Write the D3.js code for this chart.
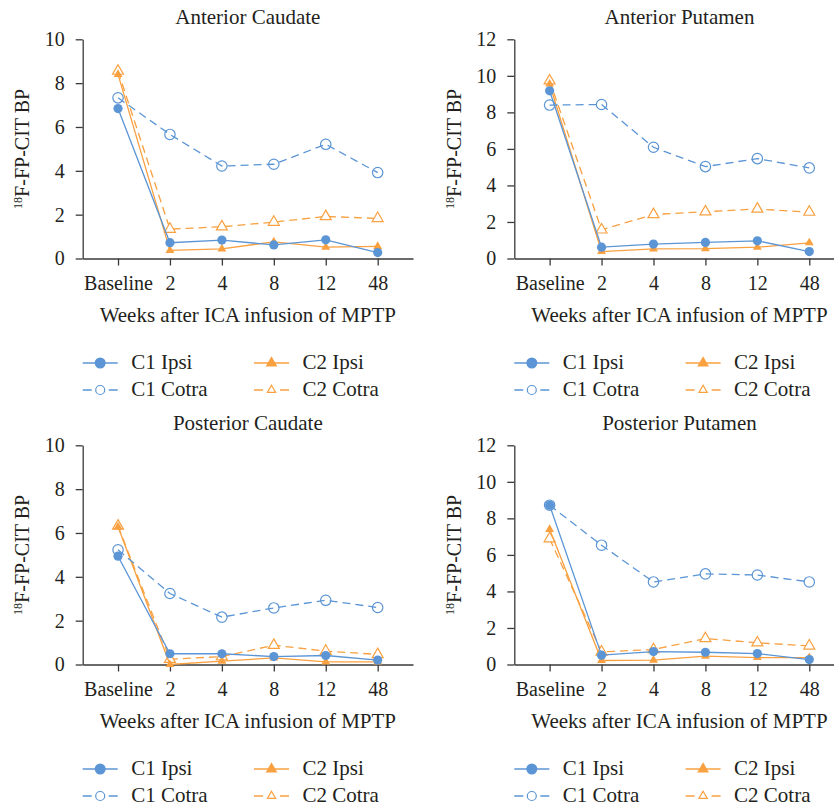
<!DOCTYPE html>
<html>
<head>
<meta charset="utf-8">
<script src="https://cdn.jsdelivr.net/npm/d3@7"></script>
<style>
  body { margin: 0; background: #fff; }
  .axis path, .axis line { stroke: #3a3a3a; stroke-width: 1.3; }
</style>
</head>
<body>
<script>
// categories on the x axis
const weeks = ["Baseline", "2", "4", "8", "12", "48"]

// Anterior Caudate
const antCaudC1Ipsi  = [6.84, 0.72, 0.84, 0.62, 0.85, 0.27]
const antCaudC1Cotra = [7.33, 5.66, 4.22, 4.30, 5.21, 3.92]
const antCaudC2Ipsi  = [8.40, 0.37, 0.44, 0.76, 0.52, 0.55]
const antCaudC2Cotra = [8.55, 1.34, 1.45, 1.66, 1.92, 1.83]

// Anterior Putamen
const antPutC1Ipsi  = [9.18, 0.62, 0.79, 0.88, 0.97, 0.38]
const antPutC1Cotra = [8.40, 8.43, 6.09, 5.03, 5.47, 4.96]
const antPutC2Ipsi  = [9.55, 0.38, 0.53, 0.54, 0.62, 0.86]
const antPutC2Cotra = [9.73, 1.57, 2.41, 2.56, 2.71, 2.54]

// Posterior Caudate
const postCaudC1Ipsi  = [4.94, 0.49, 0.49, 0.36, 0.41, 0.20]
const postCaudC1Cotra = [5.23, 3.24, 2.16, 2.58, 2.93, 2.60]
const postCaudC2Ipsi  = [6.28, 0.00, 0.15, 0.30, 0.12, 0.12]
const postCaudC2Cotra = [6.32, 0.24, 0.36, 0.88, 0.61, 0.46]

// Posterior Putamen
const postPutC1Ipsi  = [8.72, 0.51, 0.71, 0.67, 0.60, 0.27]
const postPutC1Cotra = [8.72, 6.53, 4.52, 4.96, 4.90, 4.52]
const postPutC2Ipsi  = [7.40, 0.22, 0.24, 0.46, 0.38, 0.38]
const postPutC2Cotra = [6.89, 0.69, 0.82, 1.42, 1.19, 1.02]

const yTicks10 = [0, 2, 4, 6, 8, 10]
const yTicks12 = [0, 2, 4, 6, 8, 10, 12]

const blue = "#5b95d5"
const orange = "#f9a040"
const serif = "'Liberation Serif', 'Times New Roman', serif"
const ink = "#231f20"

const series = [
  {name: "C1 Ipsi",  color: blue,   dash: null,  marker: "dot"},
  {name: "C1 Cotra", color: blue,   dash: "8,5", marker: "ring"},
  {name: "C2 Ipsi",  color: orange, dash: null,  marker: "tri"},
  {name: "C2 Cotra", color: orange, dash: "8,5", marker: "opentri"}
]

const panels = [
  {title: "Anterior Caudate",   ymax: 10, ticks: yTicks10, col: 0, row: 0,
   vals: [antCaudC1Ipsi, antCaudC1Cotra, antCaudC2Ipsi, antCaudC2Cotra]},
  {title: "Anterior Putamen",   ymax: 12, ticks: yTicks12, col: 1, row: 0,
   vals: [antPutC1Ipsi, antPutC1Cotra, antPutC2Ipsi, antPutC2Cotra]},
  {title: "Posterior Caudate",  ymax: 10, ticks: yTicks10, col: 0, row: 1,
   vals: [postCaudC1Ipsi, postCaudC1Cotra, postCaudC2Ipsi, postCaudC2Cotra]},
  {title: "Posterior Putamen",  ymax: 12, ticks: yTicks12, col: 1, row: 1,
   vals: [postPutC1Ipsi, postPutC1Cotra, postPutC2Ipsi, postPutC2Cotra]}
]

const W = 834, H = 809
const svg = d3.select("body").append("svg").attr("width", W).attr("height", H)
  .attr("font-family", serif)

// draw one marker at 0,0 of the given group
const drawMarker = (g, s, big) => {
  if (s.marker === "dot") {
    g.append("circle").attr("r", big ? 5.5 : 4.6).attr("fill", s.color)
  } else if (s.marker === "ring") {
    g.append("circle").attr("r", big ? 4.5 : 5.2).attr("fill", "none")
      .attr("stroke", s.color).attr("stroke-width", 1.2)
  } else if (s.marker === "tri") {
    g.append("path").attr("d", d3.symbol(d3.symbolTriangle, big ? 60 : 34)())
      .attr("fill", s.color)
  } else {
    g.append("path").attr("d", d3.symbol(d3.symbolTriangle, big ? 30 : 52)())
      .attr("fill", "#fff").attr("stroke", s.color).attr("stroke-width", 1.2)
  }
}

// restyle axis text after d3 sets its own font
const styleAxis = sel => {
  sel.attr("font-family", serif).attr("font-size", 20)
  sel.selectAll("text").attr("fill", ink).attr("font-family", serif).attr("font-size", 20)
}

panels.forEach(p => {
  const ox = p.col * 431.6
  const oy = p.row * 406
  const left = ox + 82.7, right = ox + 413
  const top = oy + 39.3, bottom = oy + 258.5

  const x = d3.scalePoint().domain(weeks).range([left, right]).padding(0.68)
  const y = d3.scaleLinear().domain([0, p.ymax]).range([bottom, top])

  const g = svg.append("g")

  g.append("g").attr("class", "axis")
    .attr("transform", "translate(0," + bottom + ")")
    .call(d3.axisBottom(x).tickSize(7).tickSizeOuter(0).tickPadding(10))
    .call(styleAxis)

  g.append("g").attr("class", "axis")
    .attr("transform", "translate(" + left + ",0)")
    .call(d3.axisLeft(y).tickValues(p.ticks).tickSize(7).tickSizeOuter(0).tickPadding(11))
    .call(styleAxis)

  g.append("text")
    .attr("x", (left + right) / 2).attr("y", oy + 23.5)
    .attr("text-anchor", "middle").attr("font-size", 21).attr("fill", ink)
    .text(p.title)

  const yl = g.append("text")
    .attr("transform", "translate(" + (ox + 29) + "," + ((top + bottom) / 2) + ") rotate(-90)")
    .attr("text-anchor", "middle").attr("font-size", 20).attr("fill", ink)
  yl.append("tspan").attr("font-size", 12).attr("dy", -7).text("18")
  yl.append("tspan").attr("dy", 7).text("F-FP-CIT BP")

  g.append("text")
    .attr("x", (left + right) / 2).attr("y", oy + 321.5)
    .attr("text-anchor", "middle").attr("font-size", 21).attr("fill", ink)
    .text("Weeks after ICA infusion of MPTP")

  const line = d3.line().x((d, i) => x(weeks[i])).y(d => y(d))

  // draw orange first, blue on top
  const order = [3, 2, 1, 0]
  order.forEach(k => {
    const s = series[k]
    const vals = p.vals[k]
    g.append("path").datum(vals)
      .attr("d", line).attr("fill", "none")
      .attr("stroke", s.color).attr("stroke-width", 1.3)
      .attr("stroke-dasharray", s.dash)
    vals.forEach((v, i) => {
      const m = g.append("g").attr("transform", "translate(" + x(weeks[i]) + "," + y(v) + ")")
      drawMarker(m, s, false)
    })
  })

  // legend
  series.forEach((s, k) => {
    const lx = ox + (k < 2 ? 82.7 : 254)
    const ly = oy + (k % 2 === 0 ? 363 : 390)
    const lg = g.append("g")
    lg.append("line").attr("x1", lx).attr("x2", lx + 35).attr("y1", ly).attr("y2", ly)
      .attr("stroke", s.color).attr("stroke-width", 1.5)
      .attr("stroke-dasharray", s.dash ? "9,17" : null)
    const m = lg.append("g").attr("transform", "translate(" + (lx + 17.5) + "," + ly + ")")
    drawMarker(m, s, true)
    lg.append("text").attr("x", lx + 48.5).attr("y", ly + 6)
      .attr("font-size", 21).attr("fill", ink).text(s.name)
  })
})
</script>
</body>
</html>
